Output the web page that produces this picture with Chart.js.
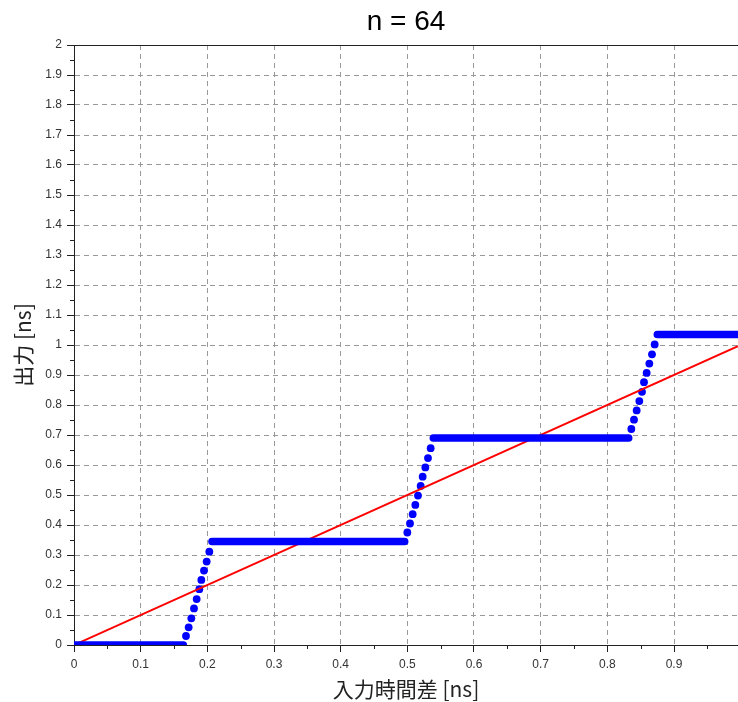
<!DOCTYPE html>
<html>
<head>
<meta charset="utf-8">
<script src="https://cdn.jsdelivr.net/npm/chart.js@4/dist/chart.umd.min.js"></script>
<style>
  body { margin: 0; background: #fff; }
</style>
</head>
<body>
<canvas id="chart" width="738" height="702"></canvas>
<script>
const titleText = 'n = 64';
const xLabel = '入力時間差 [ns]';
const yLabel = '出力 [ns]';

// flat parts of the output (x start, x end, level)
const flatStart = [0, 0.207, 0.539, 0.875];
const flatEnd = [0.164, 0.496, 0.832, 0.996];
const flatLevel = [0, 0.345, 0.69, 1.035];

// samples on the three rising edges
const rampX = [
  0.168, 0.172, 0.176, 0.180, 0.184, 0.188, 0.191, 0.195, 0.199, 0.203,
  0.500, 0.504, 0.508, 0.512, 0.516, 0.520, 0.523, 0.527, 0.531, 0.535,
  0.836, 0.840, 0.844, 0.848, 0.852, 0.855, 0.859, 0.863, 0.867, 0.871
];
const rampY = [
  0.030, 0.059, 0.089, 0.122, 0.153, 0.186, 0.217, 0.248, 0.278, 0.311,
  0.375, 0.405, 0.436, 0.467, 0.498, 0.530, 0.561, 0.592, 0.623, 0.656,
  0.720, 0.751, 0.782, 0.813, 0.844, 0.876, 0.907, 0.938, 0.969, 1.002
];

// ideal response y = x
const idealX = [0, 0.996];
const idealY = [0, 0.996];

const xTicks = [0, 0.1, 0.2, 0.3, 0.4, 0.5, 0.6, 0.7, 0.8, 0.9];
const xTickLabels = ['0', '0.1', '0.2', '0.3', '0.4', '0.5', '0.6', '0.7', '0.8', '0.9'];
const xMinor = [0.05, 0.15, 0.25, 0.35, 0.45, 0.55, 0.65, 0.75, 0.85, 0.95];
const yTicks = [0, 0.1, 0.2, 0.3, 0.4, 0.5, 0.6, 0.7, 0.8, 0.9, 1, 1.1, 1.2, 1.3, 1.4, 1.5, 1.6, 1.7, 1.8, 1.9, 2];
const yTickLabels = ['0', '0.1', '0.2', '0.3', '0.4', '0.5', '0.6', '0.7', '0.8', '0.9', '1',
  '1.1', '1.2', '1.3', '1.4', '1.5', '1.6', '1.7', '1.8', '1.9', '2'];
const yMinor = [0.05, 0.15, 0.25, 0.35, 0.45, 0.55, 0.65, 0.75, 0.85, 0.95,
  1.05, 1.15, 1.25, 1.35, 1.45, 1.55, 1.65, 1.75, 1.85, 1.95];

const flatPoints = [];
for (let i = 0; i < flatLevel.length; i++) {
  flatPoints.push({x: flatStart[i], y: flatLevel[i]});
  flatPoints.push({x: flatEnd[i], y: flatLevel[i]});
  flatPoints.push({x: flatEnd[i], y: null});
}
const rampPoints = rampX.map((x, i) => ({x: x, y: rampY[i]}));
const idealPoints = idealX.map((x, i) => ({x: x, y: idealY[i]}));

const tickFont = {family: '"Liberation Sans", Arial, sans-serif', size: 12};
const titleFont = {family: '"Noto Sans CJK JP", sans-serif', size: 21};

// top frame line, minor ticks and the title over the plot area
const extras = {
  id: 'extras',
  afterDraw(chart) {
    const {ctx, chartArea: a, scales: {x, y}} = chart;
    ctx.save();
    ctx.strokeStyle = '#222';
    ctx.lineWidth = 1;
    ctx.beginPath();
    ctx.moveTo(a.left, a.top + 0.5);
    ctx.lineTo(a.right, a.top + 0.5);
    xMinor.forEach(v => {
      const px = Math.round(x.getPixelForValue(v)) + 0.5;
      ctx.moveTo(px, a.bottom);
      ctx.lineTo(px, a.bottom + 4);
    });
    yMinor.forEach(v => {
      const py = Math.round(y.getPixelForValue(v)) + 0.5;
      ctx.moveTo(a.left - 4, py);
      ctx.lineTo(a.left, py);
    });
    ctx.stroke();
    ctx.fillStyle = '#000';
    ctx.font = '28px "Liberation Sans", Arial, sans-serif';
    ctx.textAlign = 'center';
    ctx.textBaseline = 'middle';
    ctx.fillText(titleText, (a.left + a.right) / 2, 22);
    ctx.restore();
  }
};

new Chart(document.getElementById('chart'), {
  type: 'line',
  data: {
    datasets: [
      {
        data: flatPoints,
        borderColor: '#0000ff',
        borderWidth: 7.6,
        borderCapStyle: 'round',
        pointRadius: 0,
        spanGaps: false,
        clip: 0,
        order: 0
      },
      {
        data: idealPoints,
        borderColor: '#ff0000',
        borderWidth: 2,
        pointRadius: 0,
        clip: 0,
        order: 1
      },
      {
        data: rampPoints,
        showLine: false,
        pointRadius: 3.9,
        pointBackgroundColor: '#0000ff',
        pointBorderWidth: 0,
        clip: 0,
        order: 2
      }
    ]
  },
  options: {
    responsive: false,
    animation: false,
    layout: {autoPadding: false, padding: {top: 45, right: 0, left: 0, bottom: 0}},
    plugins: {legend: {display: false}, tooltip: {enabled: false}},
    scales: {
      x: {
        type: 'linear',
        min: 0,
        max: 0.996,
        afterBuildTicks: s => { s.ticks = xTicks.map(v => ({value: v})); },
        afterFit: s => { s.height = 57; s.paddingLeft = 0; s.paddingRight = 0; },
        ticks: {
          font: tickFont,
          color: '#333',
          padding: 5,
          maxRotation: 0,
          callback: (v, i) => xTickLabels[i]
        },
        grid: {
          color: '#999',
          lineWidth: 1,
          tickLength: 7,
          tickColor: '#222'
        },
        border: {display: true, color: '#222', width: 1, dash: [5, 4]},
        title: {display: true, text: xLabel, font: titleFont, color: '#222', padding: {top: 0, bottom: 0}}
      },
      y: {
        type: 'linear',
        min: 0,
        max: 2,
        afterBuildTicks: s => { s.ticks = yTicks.map(v => ({value: v})); },
        afterFit: s => { s.width = 74; },
        ticks: {
          font: tickFont,
          color: '#333',
          padding: 5,
          callback: (v, i) => yTickLabels[i]
        },
        grid: {
          color: c => (c.tick && c.tick.value === 2 ? 'rgba(0,0,0,0)' : '#999'),
          lineWidth: 1,
          tickLength: 7,
          tickColor: '#222'
        },
        border: {display: true, color: '#222', width: 1, dash: [5, 4]},
        title: {display: true, text: yLabel, font: titleFont, color: '#222', padding: {top: 10, bottom: 0}}
      }
    }
  },
  plugins: [extras]
});
</script>
</body>
</html>
